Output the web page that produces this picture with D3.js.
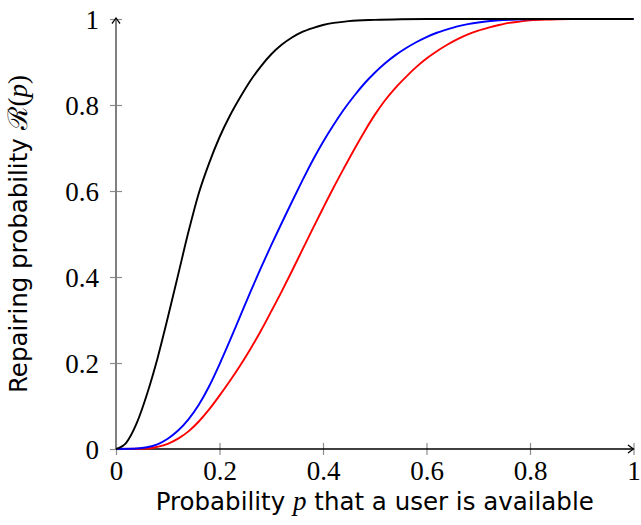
<!DOCTYPE html>
<html>
<head>
<meta charset="utf-8">
<script src="https://cdn.jsdelivr.net/npm/d3@7"></script>
<style>
  html, body { margin: 0; padding: 0; background: #fff; }
  svg { display: block; }
</style>
</head>
<body>
<div id="chart"></div>
<script>
// ---- data ----
const xTickValues = [0, 0.2, 0.4, 0.6, 0.8, 1];
const xTickLabels = ["0", "0.2", "0.4", "0.6", "0.8", "1"];
const yTickValues = [0, 0.2, 0.4, 0.6, 0.8, 1];
const yTickLabels = ["0", "0.2", "0.4", "0.6", "0.8", "1"];

// probability p that a user is available (sample points)
const blackP = [0, 0.02, 0.04, 0.06, 0.08, 0.10, 0.12, 0.14, 0.16, 0.18, 0.20, 0.22, 0.24, 0.26, 0.28, 0.30, 0.32, 0.34, 0.36, 0.38, 0.40, 0.45, 0.50, 0.55, 0.60, 0.80, 1];
const blackR = [0, 0.015, 0.060, 0.128, 0.210, 0.305, 0.405, 0.505, 0.595, 0.665, 0.725, 0.775, 0.818, 0.857, 0.890, 0.918, 0.940, 0.957, 0.970, 0.979, 0.986, 0.995, 0.998, 0.9995, 1, 1, 1];

const blueP = [0, 0.04, 0.06, 0.08, 0.10, 0.12, 0.14, 0.16, 0.18, 0.20, 0.22, 0.24, 0.26, 0.28, 0.30, 0.32, 0.34, 0.36, 0.38, 0.40, 0.42, 0.44, 0.46, 0.48, 0.50, 0.52, 0.54, 0.56, 0.58, 0.60, 0.62, 0.64, 0.66, 0.68, 0.70, 0.74, 0.78, 0.82, 1];
const blueR = [0, 0.001, 0.004, 0.011, 0.024, 0.043, 0.069, 0.103, 0.146, 0.197, 0.252, 0.309, 0.366, 0.421, 0.474, 0.525, 0.575, 0.624, 0.671, 0.714, 0.753, 0.789, 0.821, 0.850, 0.875, 0.897, 0.916, 0.932, 0.946, 0.958, 0.968, 0.976, 0.983, 0.988, 0.992, 0.997, 0.999, 1, 1];

const redP = [0, 0.06, 0.08, 0.10, 0.12, 0.14, 0.16, 0.18, 0.20, 0.22, 0.24, 0.26, 0.28, 0.30, 0.32, 0.34, 0.36, 0.38, 0.40, 0.42, 0.44, 0.46, 0.48, 0.50, 0.52, 0.54, 0.56, 0.58, 0.60, 0.62, 0.64, 0.66, 0.68, 0.70, 0.72, 0.74, 0.76, 0.78, 0.80, 0.84, 0.88, 1];
const redR = [0, 0.001, 0.005, 0.012, 0.024, 0.041, 0.064, 0.092, 0.124, 0.158, 0.194, 0.233, 0.275, 0.320, 0.366, 0.414, 0.463, 0.512, 0.560, 0.607, 0.652, 0.696, 0.738, 0.777, 0.811, 0.840, 0.865, 0.888, 0.908, 0.925, 0.940, 0.953, 0.964, 0.973, 0.980, 0.986, 0.991, 0.994, 0.997, 0.999, 1, 1];

const seriesNames = ["black", "blue", "red"];
const seriesColors = ["#000000", "#0000ff", "#ff0000"];

// ---- build ----
const W = 641, H = 525;
const svg = d3.select("#chart").append("svg").attr("width", W).attr("height", H);
svg.append("rect").attr("width", W).attr("height", H).attr("fill", "#fff");

const x = d3.scaleLinear().domain([0, 1]).range([116, 633.5]);
const y = d3.scaleLinear().domain([0, 1]).range([449, 19]);

const tickColor = "#8c8c8c";
const serif = "'Liberation Serif', 'DejaVu Serif', serif";
const sans = "'DejaVu Sans', 'Liberation Sans', sans-serif";

// y axis ticks
const yAxis = d3.axisLeft(y).tickValues(yTickValues)
  .tickFormat((d, i) => yTickLabels[i]).tickSizeInner(6).tickSizeOuter(0).tickPadding(11);
const gy = svg.append("g").attr("transform", `translate(${x(0)},0)`).call(yAxis);
gy.select(".domain").remove();
gy.selectAll(".tick line").attr("x1", -6).attr("x2", 6).attr("stroke", tickColor).attr("stroke-width", 1.2);
gy.selectAll(".tick text").attr("font-family", serif).attr("font-size", 27).attr("fill", "#000").attr("dy", "0.34em");

// x axis ticks
const xAxis = d3.axisBottom(x).tickValues(xTickValues)
  .tickFormat((d, i) => xTickLabels[i]).tickSizeInner(6).tickSizeOuter(0).tickPadding(7);
const gx = svg.append("g").attr("transform", `translate(0,${y(0)})`).call(xAxis);
gx.select(".domain").remove();
gx.selectAll(".tick line").attr("y1", -6).attr("y2", 6).attr("stroke", tickColor).attr("stroke-width", 1.2);
gx.selectAll(".tick text").attr("font-family", serif).attr("font-size", 27).attr("fill", "#000").attr("dy", "0.66em");

// axis lines
svg.append("line").attr("x1", x(0)).attr("x2", x(0)).attr("y1", y(0)).attr("y2", y(1) - 1)
  .attr("stroke", "#808080").attr("stroke-width", 2);
svg.append("line").attr("x1", x(0)).attr("x2", x(1)).attr("y1", y(0)).attr("y2", y(0))
  .attr("stroke", "#000").attr("stroke-width", 1.3);

// arrowheads
const arrowPath = "M-4,-5.5 Q-1,-1.5 0,0 Q1,-1.5 4,-5.5";
svg.append("path").attr("d", arrowPath)
  .attr("transform", `translate(${x(0)},${y(1) - 1}) rotate(180)`)
  .attr("fill", "none").attr("stroke", "#000").attr("stroke-width", 1.3);
svg.append("path").attr("d", arrowPath)
  .attr("transform", `translate(${x(1)},${y(0)}) rotate(-90)`)
  .attr("fill", "none").attr("stroke", "#000").attr("stroke-width", 1.3);

// curves
const seriesData = [
  d3.zip(blackP, blackR),
  d3.zip(blueP, blueR),
  d3.zip(redP, redR)
];
const line = d3.line().x(d => x(d[0])).y(d => y(d[1])).curve(d3.curveMonotoneX);
[2, 1, 0].forEach(i => {
  svg.append("path").datum(seriesData[i]).attr("class", "series-" + seriesNames[i])
    .attr("d", line).attr("fill", "none").attr("stroke", seriesColors[i])
    .attr("stroke-width", 1.9).attr("stroke-linejoin", "round");
});

// axis labels
const xl = svg.append("text").attr("x", (x(0) + x(1)) / 2).attr("y", 510)
  .attr("text-anchor", "middle").attr("font-family", sans).attr("font-size", 24.5).attr("fill", "#000");
xl.append("tspan").text("Probability ");
xl.append("tspan").attr("font-family", serif).attr("font-style", "italic").attr("font-size", 27).text("p");
xl.append("tspan").text(" that a user is available");

const yl = svg.append("text").attr("transform", `translate(27,${(y(0) + y(1)) / 2}) rotate(-90)`)
  .attr("text-anchor", "middle").attr("font-family", sans).attr("font-size", 24.5).attr("fill", "#000");
yl.append("tspan").text("Repairing probability ");
yl.append("tspan").attr("font-family", serif).attr("font-size", 27).text("\u211B");
yl.append("tspan").attr("font-family", serif).attr("font-size", 27).text("(");
yl.append("tspan").attr("font-family", serif).attr("font-style", "italic").attr("font-size", 27).text("p");
yl.append("tspan").attr("font-family", serif).attr("font-size", 27).text(")");
</script>
</body>
</html>
